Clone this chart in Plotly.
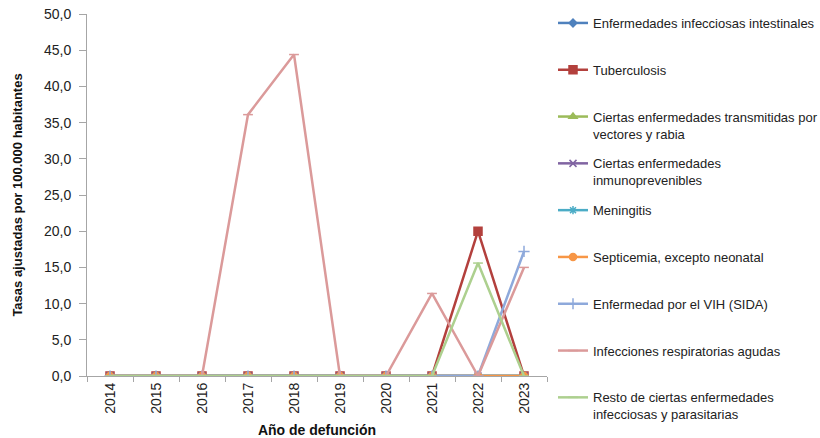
import plotly.graph_objects as go

years = ["2014", "2015", "2016", "2017", "2018", "2019", "2020", "2021", "2022", "2023"]

intestinales = [0, 0, 0, 0, 0, 0, 0, 0, 0, 0]
tuberculosis = [0, 0, 0, 0, 0, 0, 0, 0, 20.0, 0]
vectores = [0, 0, 0, 0, 0, 0, 0, 0, 0, 0]
inmunoprevenibles = [0, 0, 0, 0, 0, 0, 0, 0, 0, 0]
meningitis = [0, 0, 0, 0, 0, 0, 0, 0, 0, 0]
septicemia = [0, 0, 0, 0, 0, 0, 0, 0, 0, 0]
vih = [0, 0, 0, 0, 0, 0, 0, 0, 0, 17.2]
respiratorias = [0, 0, 0, 36.1, 44.4, 0, 0, 11.4, 0, 15.0]
resto = [0, 0, 0, 0, 0, 0, 0, 0, 15.6, 0]

series = [
    ("Enfermedades infecciosas intestinales", intestinales, "#4F81BD", "diamond", 6),
    ("Tuberculosis", tuberculosis, "#B3403D", "square", 8),
    ("Ciertas enfermedades transmitidas por<br>vectores y rabia", vectores, "#9BBB59", "triangle-up", 7),
    ("Ciertas enfermedades<br>inmunoprevenibles", inmunoprevenibles, "#8064A2", "x-thin-open", 7),
    ("Meningitis", meningitis, "#4BACC6", "asterisk-open", 7),
    ("Septicemia, excepto neonatal", septicemia, "#F79646", "circle", 7),
    ("Enfermedad por el VIH (SIDA)", vih, "#8EA9DB", "cross-thin-open", 8),
    ("Infecciones respiratorias agudas", respiratorias, "#DB9A9A", "line-ew-open", 7),
    ("Resto de ciertas enfermedades<br>infecciosas y parasitarias", resto, "#ADD08F", "line-ew-open", 7),
]

font_family = "Liberation Sans, Arial, sans-serif"

fig = go.Figure()
for i, (name, vals, color, symbol, size) in enumerate(series):
    # single-line entries get an empty second line so every entry has the same height
    label = name if "<br>" in name else name + "<br> "
    fig.add_trace(go.Scatter(
        x=years, y=vals, name=label, mode="lines+markers",
        line=dict(color=color, width=2.5),
        marker=dict(symbol=symbol, size=size, color=color,
                    line=dict(color=color, width=1.5)),
        legendgroup=str(i),
    ))

fig.update_layout(
    width=820, height=438,
    margin=dict(l=87, r=273, t=14, b=62),
    paper_bgcolor="white", plot_bgcolor="white",
    separators=",.",
    font=dict(family=font_family, size=13, color="#222222"),
    showlegend=True,
    legend=dict(
        xref="container", yref="container",
        x=553 / 820, xanchor="left",
        y=1 - 8 / 438, yanchor="top",
        valign="top", tracegroupgap=10,
        maxheight=438,
        font=dict(family=font_family, size=13, color="#222222"),
        itemwidth=30,
    ),
    xaxis=dict(
        type="category", range=[-0.5, 9.5], automargin=False,
        showline=True, linecolor="#A6A6A6", linewidth=1,
        ticks="outside", ticklen=5, tickcolor="#A6A6A6", tickson="boundaries",
        tickangle=-90, showgrid=False, zeroline=False,
        tickfont=dict(family=font_family, size=14, color="#222222"),
        title=dict(text="<b>Año de defunción</b>", standoff=14,
                   font=dict(family=font_family, size=14, color="#111111")),
    ),
    yaxis=dict(
        range=[0, 50], dtick=5, tickformat=".1f", automargin=False,
        showline=True, linecolor="#A6A6A6", linewidth=1,
        ticks="outside", ticklen=7, tickcolor="#A6A6A6", ticklabelstandoff=5,
        showgrid=False, zeroline=False,
        tickfont=dict(family=font_family, size=14, color="#222222"),
        title=dict(text="<b>Tasas ajustadas por 100.000 habitantes</b>", standoff=18,
                   font=dict(family=font_family, size=13, color="#111111")),
    ),
)

fig.write_html("out.html")
